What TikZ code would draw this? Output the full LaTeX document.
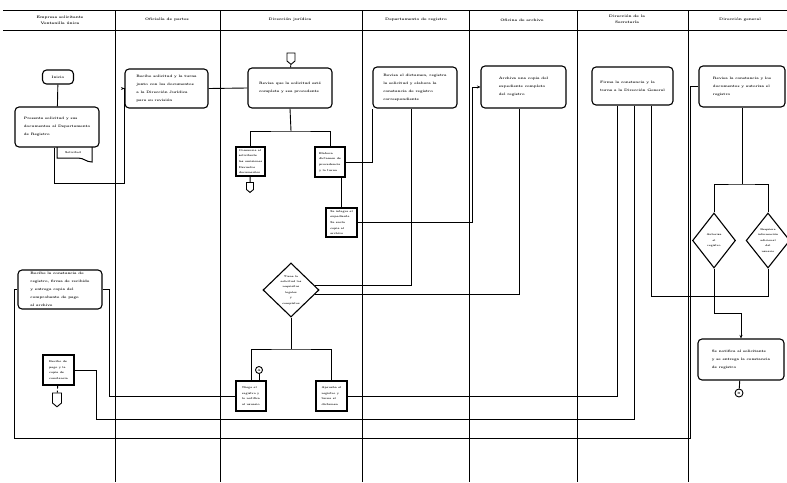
\documentclass[tikz,border=0pt]{standalone}
\usepackage{tikz}
\usetikzlibrary{shapes.geometric,shapes.symbols,arrows.meta}
\tikzset{proc/.style={draw,line width=1.1pt,rounded corners=4pt,inner sep=0pt,align=left,font=\fontsize{3.4}{8}\selectfont\bfseries}}
\tikzset{docbox/.style={draw,line width=1.1pt,inner sep=0pt,align=left,font=\fontsize{2.7}{5.6}\selectfont\bfseries}}
\tikzset{decision/.style={draw,diamond,line width=1.1pt,inner sep=0pt,align=center,font=\fontsize{2.6}{5.4}\selectfont\bfseries}}
\tikzset{offpage/.style={draw,signal,signal to=south,signal pointer angle=100,line width=0.9pt,inner sep=0pt,minimum width=8pt,minimum height=8pt}}
\tikzset{conn/.style={draw,circle,line width=0.9pt,inner sep=0pt,minimum size=7pt,font=\fontsize{3}{3}\selectfont\bfseries}}
\tikzset{head/.style={align=center,font=\fontsize{3.6}{6}\selectfont\bfseries}}
\tikzset{flow/.style={line width=0.9pt}}
\tikzset{arr/.style={-{Stealth[length=3.5pt,width=3pt]}}}

\begin{document}
\begin{tikzpicture}[x=1pt,y=-1pt]
	\useasboundingbox (0,0) rectangle (787,482);
	% lanes
	\draw[line width=1pt] (3,10) -- (787,10);
	\draw[line width=1pt] (3,30) -- (787,30);
	\foreach \x in {115,220,362,469,577,688}{
		\draw[line width=1pt] (\x,10) -- (\x,482);
	}
	\node[head] (h1) at (60,20) {Empresa solicitante\\Ventanilla \'unica};
	\node[head] (h2) at (167,20) {Oficial\'ia de partes};
	\node[head] (h3) at (290,20) {Direcci\'on jur\'idica};
	\node[head] (h4) at (416,20) {Departamento de registro};
	\node[head] (h5) at (522,20) {Oficina de archivo};
	\node[head] (h6) at (627,19) {Direcci\'on de la\\Secretar\'ia};
	\node[head] (h7) at (740,20) {Direcci\'on general};

	% first lane
	\node[proc,minimum width=31pt,minimum height=14pt] (start) at (58,77) {Inicio};
	\node[proc,minimum width=84pt,minimum height=40pt] (b1) at (57,127)
		{Presenta solicitud y sus\\documentos al Departamento\\de Registro};
	\draw[line width=1pt] (57,147) -- (57,158) -- (78,158) .. controls (84,158) and (86,162) .. (92,162) -- (92,147);
	\node[font=\fontsize{2.7}{3}\selectfont\bfseries] (f1) at (73,153) {Solicitud};
	\node[proc,minimum width=84pt,minimum height=39pt] (b1b) at (60,289.5)
		{Recibe la constancia de\\registro, firma de recibido\\y entrega copia del\\comprobante de pago\\al archivo};
	\node[docbox,minimum width=31pt,minimum height=30pt] (d1) at (58.5,370)
		{Recibo de\\pago y la\\copia de\\constancia};
	\node[offpage,minimum width=9pt,minimum height=10pt] (c1) at (57,398) {};

	% second lane
	\node[proc,minimum width=83pt,minimum height=39pt] (b2) at (166.5,88.5)
		{Recibe solicitud y la turna\\junto con los documentos\\a la Direcci\'on Jur\'idica\\para su revisi\'on};

	% third lane
	\node[offpage] (c3) at (291,57) {};
	\node[proc,minimum width=84pt,minimum height=40pt] (b3) at (290,88)
		{Revisa que la solicitud est\'e\\completa y sea procedente};
	\node[docbox,minimum width=29pt,minimum height=29pt] (d3a) at (250.5,161.5)
		{Comunica al\\solicitante\\las omisiones\\Devuelve\\documentos};
	\node[offpage,minimum width=7pt,minimum height=7pt] (c3b) at (250,186) {};
	\node[docbox,minimum width=30pt,minimum height=30pt] (d3b) at (330,162)
		{Elabora\\dictamen de\\procedencia\\y lo turna};
	\node[docbox,minimum width=31pt,minimum height=29pt] (d3c) at (341.5,222.5)
		{Se integra el\\expediente\\Se env\'ia\\copia al\\archivo};
	\node[decision,minimum width=56pt,minimum height=54pt] (q3) at (291,290)
		{Tiene la\\solicitud los\\requisitos\\legales\\y\\completos};
	\node[docbox,minimum width=30pt,minimum height=30pt] (d3d) at (251,396)
		{Niega el\\registro y\\lo notifica\\al usuario};
	\node[conn] (k3) at (259,370) {A};
	\node[docbox,minimum width=31pt,minimum height=30pt] (d3e) at (331.5,396)
		{Aprueba el\\registro y\\turna el\\dictamen};

	% fourth to seventh lanes
	\node[proc,minimum width=84pt,minimum height=41pt] (b4) at (415,87.5)
		{Revisa el dictamen, registra\\la solicitud y elabora la\\constancia de registro\\correspondiente};
	\node[proc,minimum width=85pt,minimum height=42pt] (b5) at (523.5,87)
		{Archiva una copia del\\expediente completo\\del registro};
	\node[proc,minimum width=81pt,minimum height=38pt] (b6) at (632.5,86)
		{Firma la constancia y la\\turna a la Direcci\'on General};
	\node[proc,minimum width=86pt,minimum height=41pt] (b7) at (742,86.5)
		{Revisa la constancia y los\\documentos y autoriza el\\registro};
	\node[decision,minimum width=43pt,minimum height=55pt] (q7a) at (714,240.5)
		{Autoriza\\el\\registro};
	\node[decision,minimum width=41pt,minimum height=55pt] (q7b) at (768,240.5)
		{Requiere\\informaci\'on\\adicional\\del\\usuario};
	\node[proc,minimum width=86pt,minimum height=41pt] (b7b) at (741,359.5)
		{Se notifica al solicitante\\y se entrega la constancia\\de registro};
	\node[conn,minimum size=8pt] (k7) at (739,393) {B};

	% connectors
	\draw[flow] (start) -- (b1);
	\draw[flow,arr] ([xshift=-3pt]b1.south) |- (124,183) |- (b2.west);
	\draw[flow] (b2.east) -- (b3.west);
	\draw[flow] (c3) -- (b3);
	\draw[flow] (b3.south) -- (291,131) coordinate (j3);
	\draw[flow] (d3a.north) |- (j3) -| (d3b.north);
	\draw[flow] (d3a) -- (c3b);
	\draw[flow] (d3b.east) -| (b4.south west);
	\draw[flow] (d3c.north |- d3b.south) -- (d3c.north);
	\draw[flow,arr] (d3c.east) -- (472,222.5) |- (b5.west);
	\draw[flow] ([xshift=-4pt]b4.south) |- (q3.10);
	\draw[flow] ([xshift=-4.5pt]b5.south) |- (q3.-10);
	\draw[flow] (q3.south) -- (291,349) coordinate (j3b);
	\draw[flow] (d3d.north) |- (j3b) -| (d3e.north);
	\draw[flow] (k3.south) -- (k3.south |- d3d.north);
	\draw[flow] (b1b.east) -- (109,289.5) |- (d3d.west);
	\draw[flow] ([xshift=-15.5pt]b6.south) |- (d3e.east);
	\draw[flow] ([xshift=1.5pt]b6.south) |- (96,419.5) |- (d1.east);
	\coordinate (r7) at (768,296);
	\draw[flow] ([xshift=18.5pt]b6.south) |- (r7) -- (q7b.south);
	\draw[flow] (b1b.west) -- (14,289.5) |- (690,438) |- (b7.west);
	\draw[flow,densely dashed] (d1) -- (c1);
	\draw[flow] (b7.south) -- (742,184) coordinate (j7);
	\draw[flow] (q7a.north) |- (j7) -| (q7b.north);
	\draw[flow,arr] (q7a.south) -- (714,313) -| (b7b.north);
	\draw[flow] (b7b) -- (k7);
\end{tikzpicture}
\end{document}
